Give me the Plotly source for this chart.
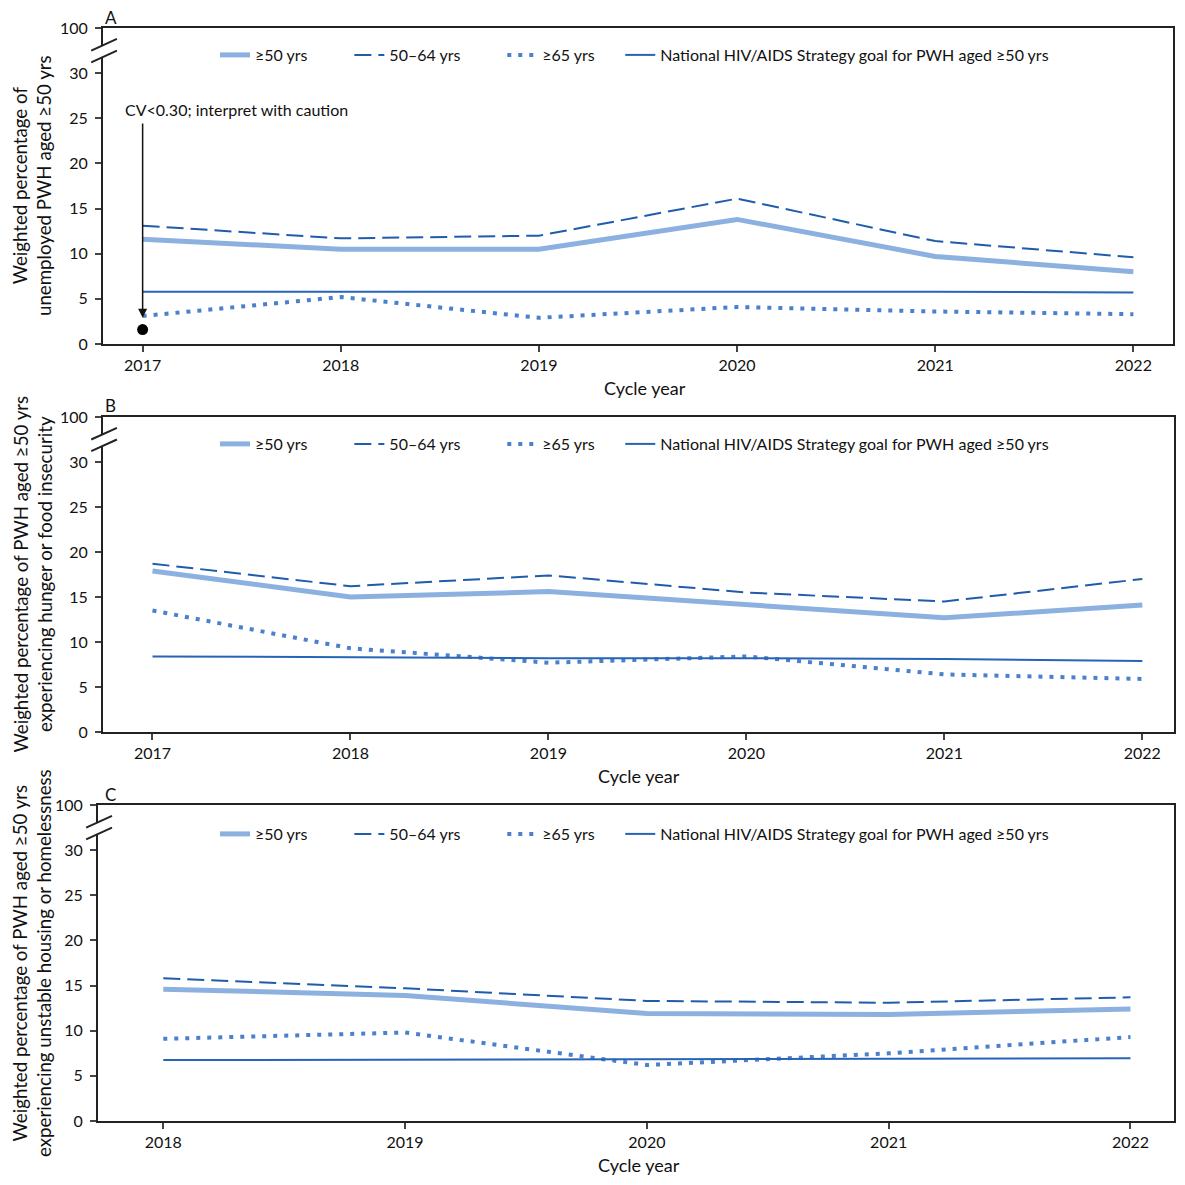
import plotly.graph_objects as go

FONT = "Lato"

# Panel A: unemployment
years_a = [2017, 2018, 2019, 2020, 2021, 2022]
a_50plus = [11.6, 10.5, 10.5, 13.8, 9.7, 8.0]
a_50_64 = [13.1, 11.7, 12.0, 16.1, 11.4, 9.6]
a_65plus = [3.1, 5.2, 2.9, 4.1, 3.6, 3.3]
a_goal = [5.8, 5.8, 5.8, 5.8, 5.8, 5.7]
a_flag_year = [2017]
a_flag_value = [1.6]

# Panel B: hunger or food insecurity
years_b = [2017, 2018, 2019, 2020, 2021, 2022]
b_50plus = [17.9, 15.0, 15.6, 14.2, 12.7, 14.1]
b_50_64 = [18.7, 16.2, 17.4, 15.5, 14.5, 17.0]
b_65plus = [13.5, 9.3, 7.7, 8.4, 6.4, 5.9]
b_goal = [8.4, 8.3, 8.2, 8.2, 8.1, 7.9]

# Panel C: unstable housing or homelessness
years_c = [2018, 2019, 2020, 2021, 2022]
c_50plus = [14.6, 13.9, 11.9, 11.8, 12.4]
c_50_64 = [15.8, 14.7, 13.3, 13.1, 13.7]
c_65plus = [9.1, 9.8, 6.2, 7.5, 9.3]
c_goal = [6.75, 6.8, 6.85, 6.9, 6.95]

series_names = ["≥50 yrs", "50–64 yrs", "≥65 yrs",
                "National HIV/AIDS Strategy goal for PWH aged ≥50 yrs"]
y_ticks = [0, 5, 10, 15, 20, 25, 30, 35]
y_ticktext = ["0", "5", "10", "15", "20", "25", "30", "100"]

styles = [
    dict(color="#8cb0e0", width=5),
    dict(color="#1f5cab", width=2, dash="17px,7px"),
    dict(color="#4a80cc", width=4, dash="4px,7px"),
    dict(color="#2763b6", width=2),
]
legend_pad = [9, 9, 5, 0]

panels = [
    ("A", years_a, [a_50plus, a_50_64, a_65plus, a_goal],
     "Weighted percentage of<br>unemployed PWH aged ≥50 yrs"),
    ("B", years_b, [b_50plus, b_50_64, b_65plus, b_goal],
     "Weighted percentage of PWH aged ≥50 yrs<br>experiencing hunger or food insecurity"),
    ("C", years_c, [c_50plus, c_50_64, c_65plus, c_goal],
     "Weighted percentage of PWH aged ≥50 yrs<br>experiencing unstable housing or homelessness"),
]

H = 1185.0
OFF = 8  # page body margin


def px(x):
    return (x - OFF) / H


def py(y):
    return 1 - (y - OFF) / H


# pixel boxes: (left, right, top, bottom)
boxes = [(103, 1173, 28, 344), (103, 1174, 417, 732), (98, 1174, 805, 1121)]
x_ranges = [[2016.80, 2022.20], [2016.75, 2022.16], [2017.73, 2022.18]]
legend_y = [55, 444, 834]
xtitle_x = [645, 639, 639]

fig = go.Figure()
layout = {}
annotations = []
shapes = []

for i, (letter, years, vals, ytitle) in enumerate(panels):
    n = "" if i == 0 else str(i + 1)
    leg = "legend" + n
    for name, v, st, pad in zip(series_names, vals, styles, legend_pad):
        fig.add_trace(go.Scatter(
            x=years, y=v, mode="lines", name=name + "\u00a0" * pad,
            line=st, xaxis="x" + n, yaxis="y" + n, legend=leg,
        ))
    l, r, t, b = boxes[i]
    layout["xaxis" + n] = dict(
        domain=[px(l), px(r)], range=x_ranges[i], anchor="y" + n,
        tickvals=years, ticks="outside", ticklen=6, tickwidth=1.5,
        showline=True, linecolor="#222", linewidth=2, mirror=True,
        showgrid=False, zeroline=False, automargin=False,
        tickfont=dict(family=FONT, size=16, color="#111"),
    )
    layout["yaxis" + n] = dict(
        domain=[py(b), py(t)], range=[0, 35], anchor="x" + n,
        tickvals=y_ticks, ticktext=y_ticktext, ticks="outside", ticklen=6,
        tickwidth=1.5, showline=True, linecolor="#222", linewidth=2,
        mirror=True, showgrid=False, zeroline=False, automargin=False,
        ticklabelstandoff=4,
        tickfont=dict(family=FONT, size=16, color="#111"),
    )
    layout[leg] = dict(
        orientation="h", x=px(215), y=py(legend_y[i]),
        xanchor="left", yanchor="middle", bgcolor="rgba(0,0,0,0)",
        font=dict(family=FONT, size=16, color="#111"),
    )
    # panel letter
    annotations.append(dict(
        text=letter, xref="paper", yref="paper", x=px(104), y=py(t - 11),
        xanchor="left", yanchor="middle", showarrow=False, borderpad=0,
        font=dict(family=FONT, size=17, color="#111"),
    ))
    # y title
    annotations.append(dict(
        text=ytitle, xref="paper", yref="paper", x=px(32), y=py((t + b) / 2),
        xanchor="center", yanchor="middle", textangle=-90, showarrow=False,
        font=dict(family=FONT, size=18.7, color="#111"),
    ))
    # x title
    annotations.append(dict(
        text="Cycle year", xref="paper", yref="paper", x=px(xtitle_x[i]),
        y=py(b + 44), xanchor="center", yanchor="middle", showarrow=False,
        font=dict(family=FONT, size=18, color="#111"),
    ))
    # axis break marks
    xd, yd = "x" + n + " domain", "y" + n
    shapes.append(dict(type="rect", xref=xd, yref=yd, x0=-0.006, x1=0.006,
                       y0=31.8, y1=33.0, fillcolor="white",
                       line=dict(width=0), layer="above"))
    for y0, y1 in [(32.5, 33.8), (31.2, 32.5)]:
        shapes.append(dict(type="line", xref=xd, yref=yd, x0=-0.011, x1=0.013,
                           y0=y0, y1=y1, line=dict(color="#222", width=2),
                           layer="above"))

# flagged estimate marker in panel A
fig.add_trace(go.Scatter(
    x=a_flag_year, y=a_flag_value, mode="markers", showlegend=False,
    marker=dict(color="black", size=11), xaxis="x", yaxis="y",
))
annotations.append(dict(
    text="CV<0.30; interpret with caution", xref="x", yref="y",
    x=2016.9, y=26.0, xanchor="left", yanchor="middle", showarrow=False,
    font=dict(family=FONT, size=16, color="#111"),
))
annotations.append(dict(
    text="", xref="x", yref="y", x=2017, y=2.9, axref="x", ayref="y",
    ax=2017, ay=24.6, showarrow=True, arrowhead=2, arrowsize=1.2,
    arrowwidth=1.5, arrowcolor="#111",
))

fig.update_layout(
    **layout,
    width=1185, height=1185,
    margin=dict(l=0, r=0, t=0, b=0, pad=0, autoexpand=False),
    paper_bgcolor="white", plot_bgcolor="white",
    annotations=annotations, shapes=shapes,
    font=dict(family=FONT, color="#111"),
)

fig.write_html("out.html")
